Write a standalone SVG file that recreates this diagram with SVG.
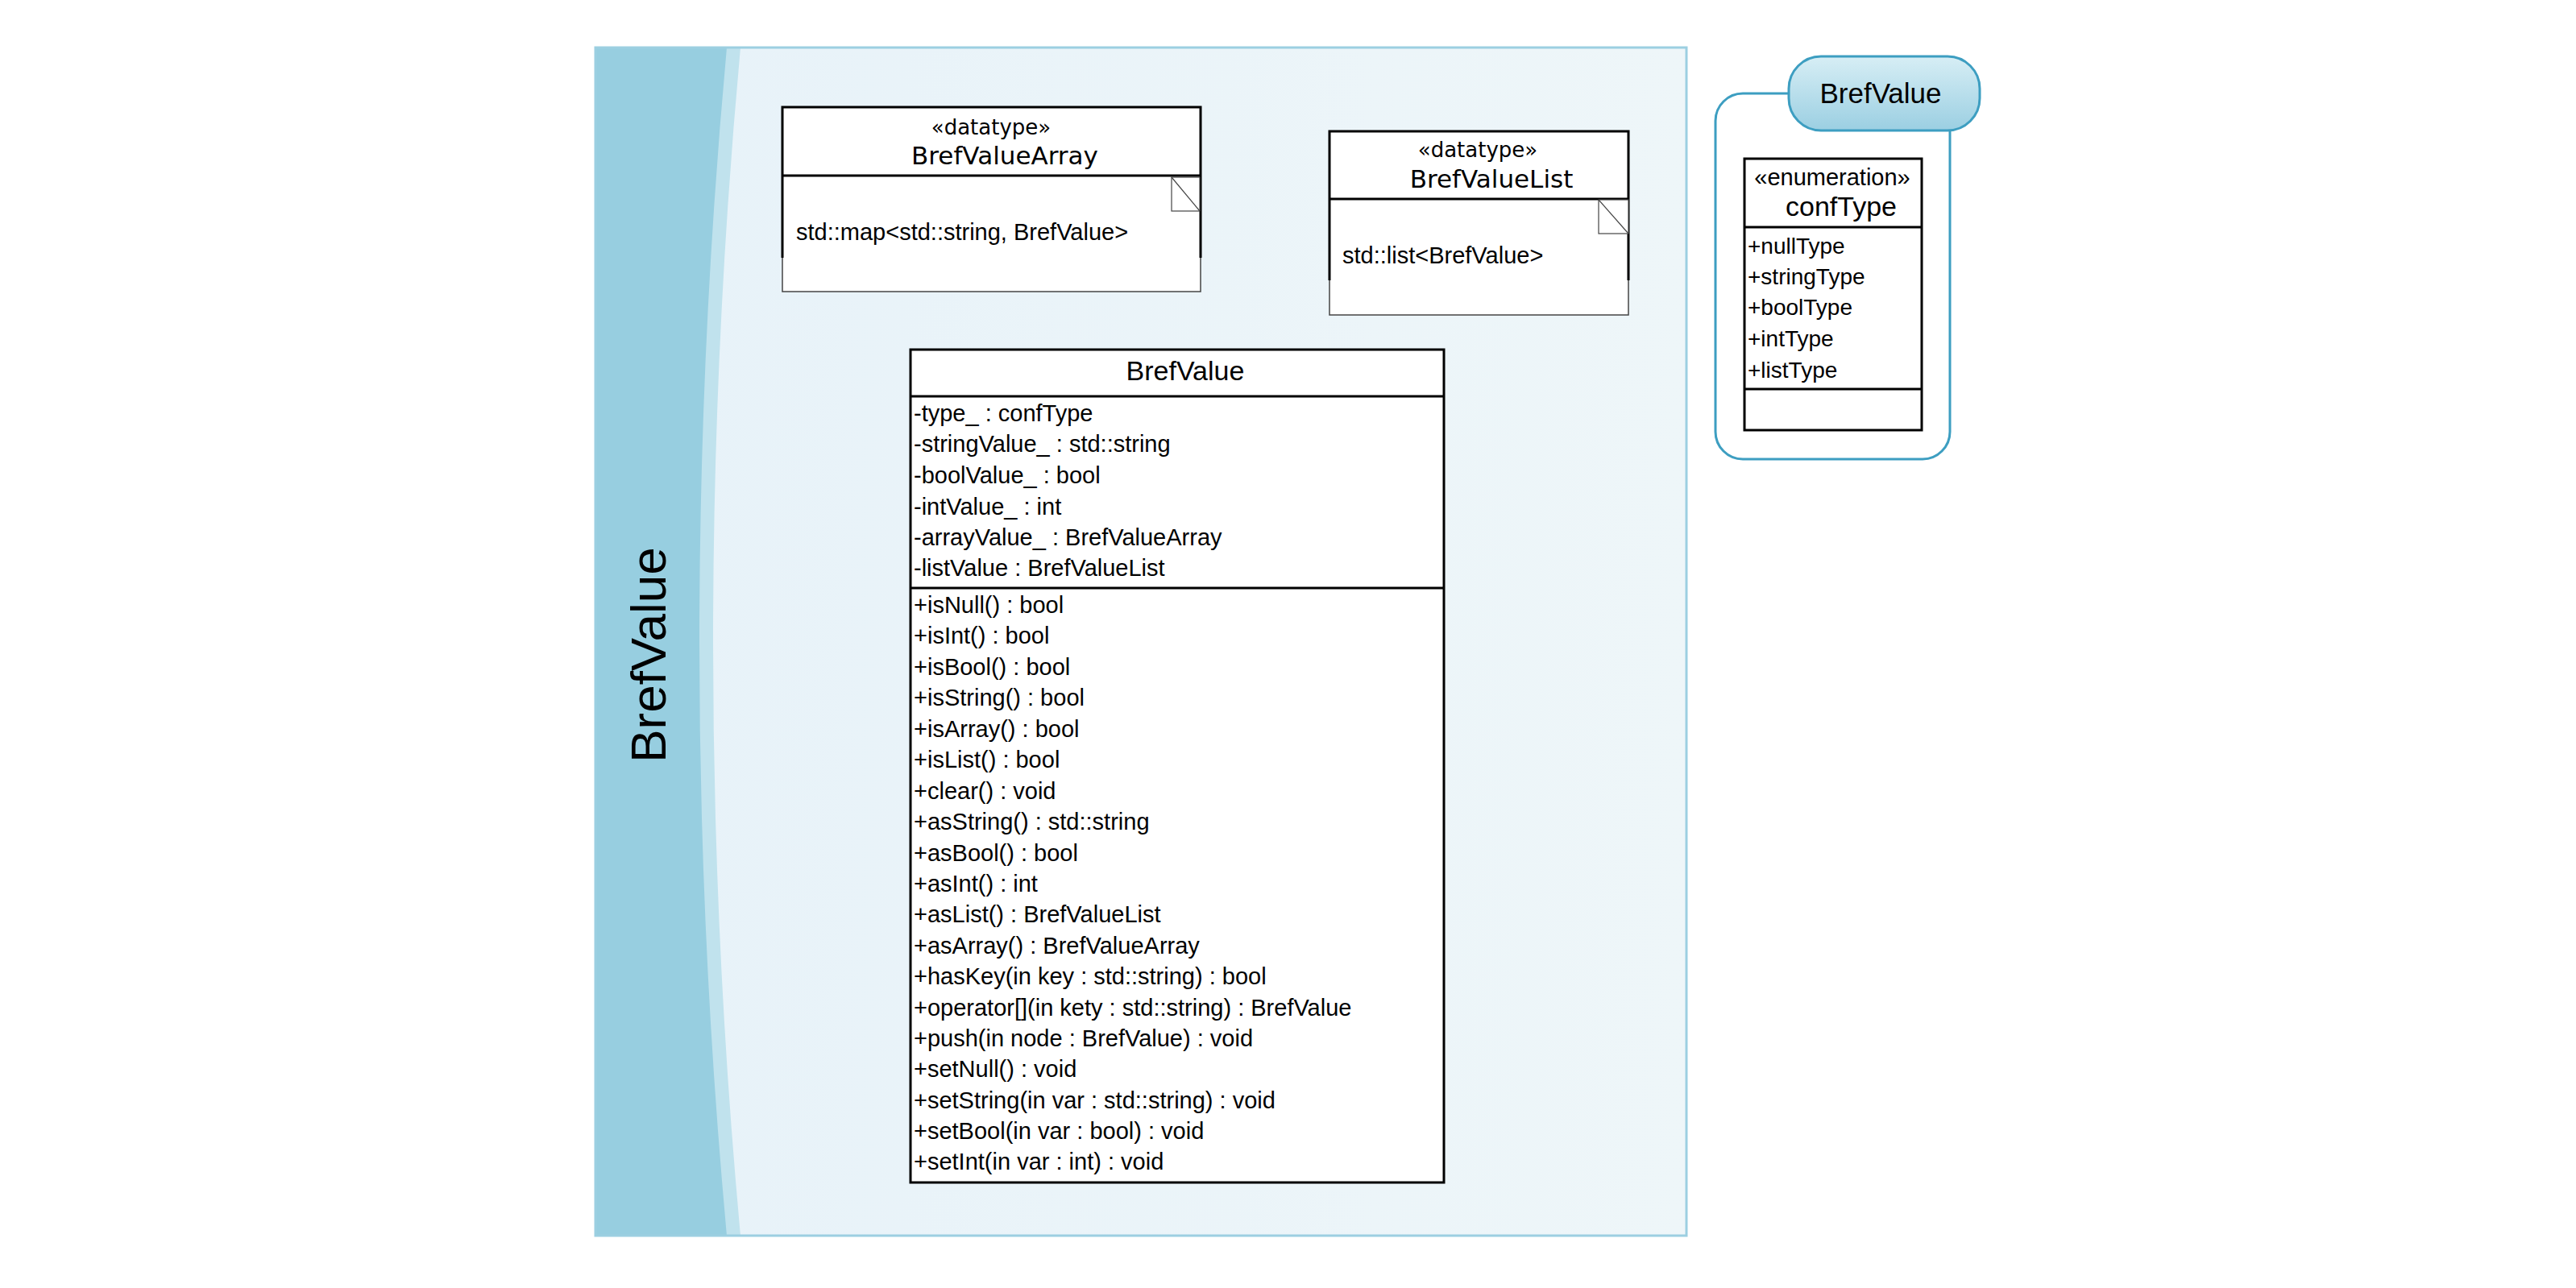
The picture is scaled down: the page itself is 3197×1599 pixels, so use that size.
<svg xmlns="http://www.w3.org/2000/svg" width="3197" height="1599" viewBox="0 0 3197 1599">
<defs>
<linearGradient id="bg" x1="0" y1="0" x2="1" y2="0">
<stop offset="0" stop-color="#e7f2f9"/>
<stop offset="1" stop-color="#eef6f9"/>
</linearGradient>
<linearGradient id="tab" x1="0" y1="0" x2="0" y2="1">
<stop offset="0" stop-color="#d7eef5"/>
<stop offset="1" stop-color="#9bcfe2"/>
</linearGradient>
<style>
text{font-family:"Liberation Sans",Arial,sans-serif;fill:#000}
.dj{font-family:"DejaVu Sans",sans-serif}
.m{font-size:29px}
.e{font-size:28px}
.box{fill:#fff;stroke:#000;stroke-width:3}
.thin{fill:#fff;stroke:#444;stroke-width:1.5}
.blk{fill:none;stroke:#000;stroke-width:3}
.note{fill:#fff;stroke:#444;stroke-width:1.2}
.pkg{fill:none;stroke:#3d9ec1;stroke-width:3}
</style>
</defs>
<rect width="3197" height="1599" fill="#fff"/>

<g id="frame">
<rect x="739" y="59" width="1354" height="1475" fill="url(#bg)"/>
<path d="M739,59 H919 Q851,797 919,1534 H739 Z" fill="#c0e2ed"/>
<path d="M739,59 H902 Q834,797 902,1534 H739 Z" fill="#97cee0"/>
<rect x="739" y="59" width="1354" height="1475" fill="none" stroke="#9ccfe1" stroke-width="3"/>
<text transform="translate(826,813) rotate(-90)" text-anchor="middle" font-size="62">BrefValue</text>
</g>

<g id="BrefValueArray">
<rect class="thin" x="971" y="133" width="519" height="229"/>
<path class="blk" d="M971,320 V133 H1490 V320"/>
<line class="blk" x1="971" y1="218" x2="1490" y2="218"/>
<rect class="note" x="1454" y="220" width="35" height="42"/>
<line x1="1454" y1="220" x2="1489" y2="262" stroke="#444" stroke-width="1.2"/>
<text class="dj" x="1230" y="167" font-size="26" text-anchor="middle">«datatype»</text>
<text class="dj" x="1247" y="204" font-size="31" text-anchor="middle">BrefValueArray</text>
<text class="m" x="988" y="298">std::map&lt;std::string, BrefValue&gt;</text>
</g>

<g id="BrefValueList">
<rect class="thin" x="1650" y="163" width="371" height="228"/>
<path class="blk" d="M1650,348 V163 H2021 V348"/>
<line class="blk" x1="1650" y1="247" x2="2021" y2="247"/>
<rect class="note" x="1984" y="248" width="37" height="42"/>
<line x1="1984" y1="248" x2="2021" y2="290" stroke="#444" stroke-width="1.2"/>
<text class="dj" x="1834" y="195" font-size="26" text-anchor="middle">«datatype»</text>
<text class="dj" x="1851" y="233" font-size="31" text-anchor="middle">BrefValueList</text>
<text class="m" x="1666" y="327">std::list&lt;BrefValue&gt;</text>
</g>

<g id="BrefValue">
<rect class="box" x="1130" y="434" width="662" height="1034"/>
<line class="blk" x1="1130" y1="492" x2="1792" y2="492"/>
<line class="blk" x1="1130" y1="730" x2="1792" y2="730"/>
<text x="1471" y="472" font-size="34" text-anchor="middle">BrefValue</text>
<g class="m">
<text x="1134" y="523">-type_ : confType</text>
<text x="1134" y="561">-stringValue_ : std::string</text>
<text x="1134" y="600">-boolValue_ : bool</text>
<text x="1134" y="639">-intValue_ : int</text>
<text x="1134" y="677">-arrayValue_ : BrefValueArray</text>
<text x="1134" y="715">-listValue : BrefValueList</text>
<text x="1134" y="761">+isNull() : bool</text>
<text x="1134" y="799">+isInt() : bool</text>
<text x="1134" y="838">+isBool() : bool</text>
<text x="1134" y="876">+isString() : bool</text>
<text x="1134" y="915">+isArray() : bool</text>
<text x="1134" y="953">+isList() : bool</text>
<text x="1134" y="992">+clear() : void</text>
<text x="1134" y="1030">+asString() : std::string</text>
<text x="1134" y="1069">+asBool() : bool</text>
<text x="1134" y="1107">+asInt() : int</text>
<text x="1134" y="1145">+asList() : BrefValueList</text>
<text x="1134" y="1184">+asArray() : BrefValueArray</text>
<text x="1134" y="1222">+hasKey(in key : std::string) : bool</text>
<text x="1134" y="1261">+operator[](in kety : std::string) : BrefValue</text>
<text x="1134" y="1299">+push(in node : BrefValue) : void</text>
<text x="1134" y="1337">+setNull() : void</text>
<text x="1134" y="1376">+setString(in var : std::string) : void</text>
<text x="1134" y="1414">+setBool(in var : bool) : void</text>
<text x="1134" y="1452">+setInt(in var : int) : void</text>
</g>
</g>

<g id="package">
<path class="pkg" d="M2220,116 H2163 A34,34 0 0 0 2129,150 V536 A34,34 0 0 0 2163,570 H2386 A34,34 0 0 0 2420,536 V162"/>
<rect x="2220" y="70" width="237" height="92" rx="40" ry="40" fill="url(#tab)" stroke="#3d9ec1" stroke-width="3"/>
<text x="2334" y="128" font-size="35" text-anchor="middle">BrefValue</text>
</g>

<g id="confType">
<rect class="box" x="2165" y="197" width="220" height="337"/>
<line class="blk" x1="2165" y1="282" x2="2385" y2="282"/>
<line class="blk" x1="2165" y1="483" x2="2385" y2="483"/>
<text x="2274" y="230" font-size="29" text-anchor="middle">«enumeration»</text>
<text x="2285" y="268" font-size="34" text-anchor="middle">confType</text>
<g class="e">
<text x="2169" y="315">+nullType</text>
<text x="2169" y="353">+stringType</text>
<text x="2169" y="391">+boolType</text>
<text x="2169" y="430">+intType</text>
<text x="2169" y="469">+listType</text>
</g>
</g>

<g id="connectors"/>
</svg>
